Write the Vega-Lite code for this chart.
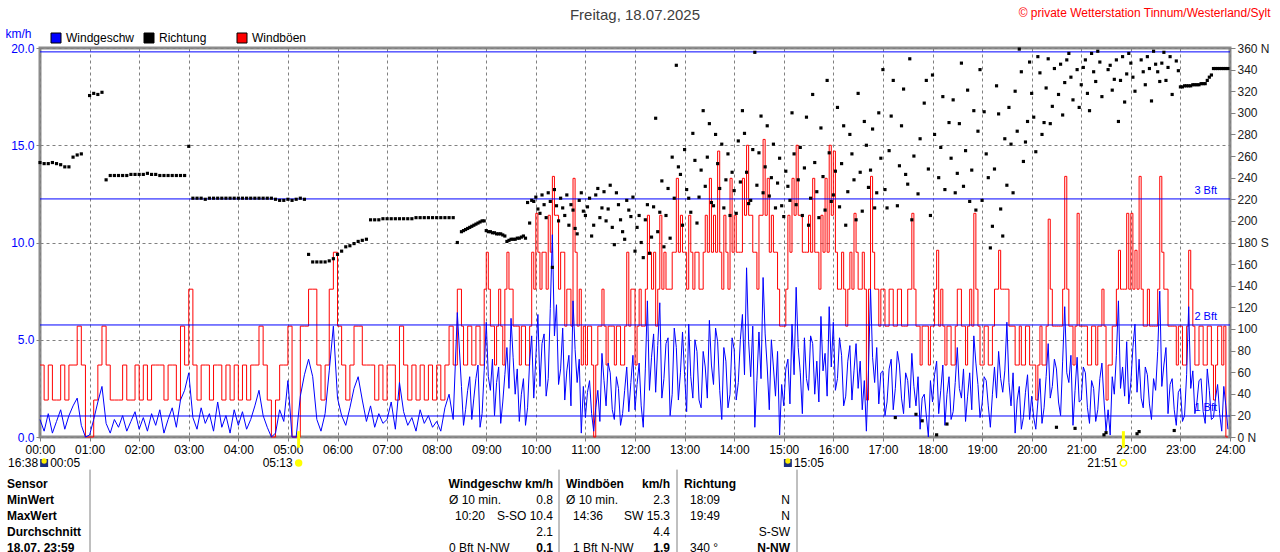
{
  "$schema": "https://vega.github.io/schema/vega-lite/v6.json",
  "width": 1190,
  "height": 389,
  "autosize": {"type": "none"},
  "padding": {"left": 40, "top": 48, "right": 50, "bottom": 115},
  "background": "white",
  "title": {
    "text": "Freitag, 18.07.2025",
    "anchor": "middle",
    "frame": "group",
    "offset": -17,
    "font": "Liberation Sans",
    "fontSize": 15,
    "fontWeight": "normal",
    "color": "#404040"
  },
  "config": {
    "view": {"stroke": "#8c8c8c", "strokeWidth": 3},
    "font": "Liberation Sans",
    "axis": {
      "labelFont": "Liberation Sans",
      "labelFontSize": 12,
      "titleFont": "Liberation Sans",
      "titleFontWeight": "normal",
      "titleFontSize": 12,
      "tickColor": "#808080",
      "domain": false,
      "gridColor": "#808080",
      "gridDash": [3, 3],
      "gridOpacity": 1,
      "gridWidth": 1
    }
  },
  "datasets": {
    "wind": [
      {"m": 0, "w": 0.9, "g": 3.7, "d": 254}, {"m": 5, "w": 0.3, "g": 1.9, "d": 253}, {"m": 10, "w": 1.2, "g": 3.7, "d": 253},
      {"m": 15, "w": 0.2, "g": 1.9, "d": 254}, {"m": 20, "w": 0.8, "g": 1.9, "d": 253}, {"m": 25, "w": 1.4, "g": 3.7, "d": 252},
      {"m": 30, "w": 0.4, "g": 1.9, "d": 250}, {"m": 35, "w": 1.1, "g": 3.7, "d": 250}, {"m": 40, "w": 1.6, "g": 3.7, "d": 259},
      {"m": 45, "w": 2.0, "g": 5.7, "d": 261}, {"m": 50, "w": 0.6, "g": 3.7, "d": 262}, {"m": 55, "w": 0.0, "g": 0.0},
      {"m": 60, "w": 0.1, "g": 0.0, "d": 316}, {"m": 65, "w": 0.9, "g": 1.9, "d": 318}, {"m": 70, "w": 1.8, "g": 3.7, "d": 317},
      {"m": 75, "w": 2.6, "g": 5.7, "d": 319}, {"m": 80, "w": 0.7, "g": 3.7, "d": 238}, {"m": 85, "w": 0.2, "g": 1.9, "d": 242},
      {"m": 90, "w": 0.9, "g": 1.9, "d": 242}, {"m": 95, "w": 0.5, "g": 1.9, "d": 242}, {"m": 100, "w": 1.1, "g": 3.7, "d": 242},
      {"m": 105, "w": 0.3, "g": 1.9, "d": 242}, {"m": 110, "w": 0.8, "g": 1.9, "d": 243}, {"m": 115, "w": 1.3, "g": 3.7, "d": 243},
      {"m": 120, "w": 0.4, "g": 1.9, "d": 243}, {"m": 125, "w": 1.0, "g": 3.7, "d": 243}, {"m": 130, "w": 0.3, "g": 1.9, "d": 244},
      {"m": 135, "w": 1.2, "g": 3.7, "d": 243}, {"m": 140, "w": 0.6, "g": 3.7, "d": 243}, {"m": 145, "w": 1.4, "g": 3.7, "d": 242},
      {"m": 150, "w": 0.2, "g": 1.9, "d": 242}, {"m": 155, "w": 0.9, "g": 3.7, "d": 242}, {"m": 160, "w": 1.5, "g": 3.7, "d": 242},
      {"m": 165, "w": 0.5, "g": 1.9, "d": 242}, {"m": 170, "w": 1.9, "g": 5.7, "d": 242}, {"m": 175, "w": 2.4, "g": 3.7, "d": 242},
      {"m": 180, "w": 3.3, "g": 7.6, "d": 269}, {"m": 185, "w": 1.0, "g": 3.7, "d": 221}, {"m": 190, "w": 0.4, "g": 1.9, "d": 221},
      {"m": 195, "w": 1.5, "g": 3.7, "d": 221}, {"m": 200, "w": 0.7, "g": 3.7, "d": 220}, {"m": 205, "w": 1.2, "g": 1.9, "d": 221},
      {"m": 210, "w": 0.3, "g": 3.7, "d": 221}, {"m": 215, "w": 1.8, "g": 3.7, "d": 221}, {"m": 220, "w": 0.5, "g": 1.9, "d": 221},
      {"m": 225, "w": 1.1, "g": 3.7, "d": 221}, {"m": 230, "w": 0.2, "g": 1.9, "d": 221}, {"m": 235, "w": 1.4, "g": 3.7, "d": 221},
      {"m": 240, "w": 0.6, "g": 1.9, "d": 221}, {"m": 245, "w": 1.3, "g": 3.7, "d": 221}, {"m": 250, "w": 0.4, "g": 1.9, "d": 221},
      {"m": 255, "w": 0.9, "g": 3.7, "d": 221}, {"m": 260, "w": 1.6, "g": 3.7, "d": 221}, {"m": 265, "w": 2.4, "g": 5.7, "d": 221},
      {"m": 270, "w": 1.1, "g": 3.7, "d": 221}, {"m": 275, "w": 0.5, "g": 1.9, "d": 221}, {"m": 280, "w": 0.0, "g": 0.0, "d": 221},
      {"m": 285, "w": 0.2, "g": 1.9, "d": 220}, {"m": 290, "w": 1.4, "g": 3.7, "d": 219}, {"m": 295, "w": 0.8, "g": 3.7, "d": 219},
      {"m": 300, "w": 2.9, "g": 5.7, "d": 220}, {"m": 305, "w": 0.0, "g": 0.0, "d": 219}, {"m": 310, "w": 0.0, "g": 0.0, "d": 220},
      {"m": 315, "w": 2.1, "g": 5.7, "d": 221}, {"m": 320, "w": 3.2, "g": 5.7, "d": 220}, {"m": 325, "w": 4.0, "g": 7.6, "d": 169},
      {"m": 330, "w": 3.1, "g": 7.6, "d": 162}, {"m": 335, "w": 0.9, "g": 3.7, "d": 162}, {"m": 340, "w": 0.3, "g": 1.9, "d": 162},
      {"m": 345, "w": 1.2, "g": 3.7, "d": 162}, {"m": 350, "w": 3.4, "g": 7.6, "d": 163}, {"m": 355, "w": 5.7, "g": 9.5, "d": 165},
      {"m": 360, "w": 2.0, "g": 5.7, "d": 169}, {"m": 365, "w": 1.1, "g": 3.7, "d": 172}, {"m": 370, "w": 0.6, "g": 1.9, "d": 176},
      {"m": 375, "w": 1.5, "g": 3.7, "d": 177}, {"m": 380, "w": 2.5, "g": 5.7, "d": 179}, {"m": 385, "w": 3.1, "g": 5.7, "d": 181},
      {"m": 390, "w": 1.9, "g": 3.7, "d": 182}, {"m": 395, "w": 0.8, "g": 3.7, "d": 183}, {"m": 400, "w": 1.6, "g": 3.7, "d": 201},
      {"m": 405, "w": 0.5, "g": 1.9, "d": 201}, {"m": 410, "w": 1.2, "g": 3.7, "d": 201}, {"m": 415, "w": 0.7, "g": 1.9, "d": 202},
      {"m": 420, "w": 0.9, "g": 3.7, "d": 202}, {"m": 425, "w": 1.8, "g": 3.7, "d": 202}, {"m": 430, "w": 0.4, "g": 1.9, "d": 202},
      {"m": 435, "w": 2.8, "g": 5.7, "d": 202}, {"m": 440, "w": 1.3, "g": 3.7, "d": 202}, {"m": 445, "w": 0.6, "g": 1.9, "d": 202},
      {"m": 450, "w": 1.0, "g": 3.7, "d": 202}, {"m": 455, "w": 0.3, "g": 1.9, "d": 203}, {"m": 460, "w": 1.4, "g": 3.7, "d": 203},
      {"m": 465, "w": 0.7, "g": 1.9, "d": 203}, {"m": 470, "w": 1.1, "g": 3.7, "d": 203}, {"m": 475, "w": 0.5, "g": 1.9, "d": 203},
      {"m": 480, "w": 0.8, "g": 3.7, "d": 203}, {"m": 485, "w": 0.3, "g": 1.9, "d": 203}, {"m": 490, "w": 1.5, "g": 3.7, "d": 203},
      {"m": 495, "w": 2.2, "g": 5.7, "d": 203}, {"m": 500, "w": 0.9, "g": 3.7, "d": 203}, {"m": 505, "w": 6.4, "g": 7.6, "d": 180},
      {"m": 510, "w": 2.6, "g": 5.7, "d": 190}, {"m": 515, "w": 1.4, "g": 3.7, "d": 192}, {"m": 520, "w": 3.1, "g": 5.7, "d": 194},
      {"m": 525, "w": 2.0, "g": 3.7, "d": 196}, {"m": 530, "w": 3.7, "g": 5.7, "d": 198}, {"m": 535, "w": 1.2, "g": 3.7, "d": 200},
      {"m": 540, "w": 5.9, "g": 9.5, "d": 191}, {"m": 545, "w": 2.4, "g": 5.7, "d": 190}, {"m": 550, "w": 1.1, "g": 3.7, "d": 189},
      {"m": 555, "w": 3.6, "g": 7.6, "d": 188}, {"m": 560, "w": 1.8, "g": 3.7, "d": 187}, {"m": 565, "w": 4.6, "g": 9.5, "d": 181},
      {"m": 570, "w": 6.1, "g": 7.6, "d": 183}, {"m": 575, "w": 2.2, "g": 5.7, "d": 183}, {"m": 580, "w": 0.8, "g": 3.7, "d": 184},
      {"m": 585, "w": 3.0, "g": 5.7, "d": 186}, {"m": 590, "w": 1.5, "g": 3.7, "d": 217}, {"m": 595, "w": 5.2, "g": 9.5, "d": 219},
      {"m": 600, "w": 4.1, "g": 11.5, "d": 222}, {"m": 605, "w": 2.6, "g": 7.6, "d": 207}, {"m": 610, "w": 5.3, "g": 9.5, "d": 215},
      {"m": 615, "w": 3.0, "g": 11.4, "d": 226}, {"m": 620, "w": 10.4, "g": 13.4, "d": 157}, {"m": 625, "w": 6.8, "g": 11.4, "d": 214},
      {"m": 630, "w": 3.5, "g": 9.5, "d": 221}, {"m": 635, "w": 1.9, "g": 5.7, "d": 205}, {"m": 640, "w": 4.2, "g": 7.6, "d": 196},
      {"m": 645, "w": 7.0, "g": 13.3, "d": 210}, {"m": 650, "w": 2.8, "g": 5.7, "d": 188}, {"m": 655, "w": 0.2, "g": 3.7, "d": 226},
      {"m": 660, "w": 1.0, "g": 3.7, "d": 205}, {"m": 665, "w": 2.9, "g": 5.7, "d": 221}, {"m": 670, "w": 0.3, "g": 0.0, "d": 196},
      {"m": 675, "w": 2.4, "g": 5.7, "d": 230}, {"m": 680, "w": 4.3, "g": 7.6, "d": 212}, {"m": 685, "w": 1.6, "g": 3.7, "d": 200},
      {"m": 690, "w": 3.3, "g": 5.7, "d": 233}, {"m": 695, "w": 0.9, "g": 3.7, "d": 178}, {"m": 700, "w": 2.5, "g": 5.7, "d": 215},
      {"m": 705, "w": 1.2, "g": 3.7, "d": 190}, {"m": 710, "w": 3.6, "g": 9.5, "d": 219}, {"m": 715, "w": 2.8, "g": 7.6, "d": 204},
      {"m": 720, "w": 1.4, "g": 3.7, "d": 172}, {"m": 725, "w": 3.8, "g": 7.6, "d": 205}, {"m": 730, "w": 0.5, "g": 5.7, "d": 166},
      {"m": 735, "w": 7.0, "g": 11.4, "d": 215}, {"m": 740, "w": 4.1, "g": 7.6, "d": 185}, {"m": 745, "w": 2.3, "g": 5.7, "d": 295},
      {"m": 750, "w": 6.9, "g": 11.4, "d": 208}, {"m": 755, "w": 3.0, "g": 9.5, "d": 176}, {"m": 760, "w": 5.1, "g": 7.6, "d": 230},
      {"m": 765, "w": 2.2, "g": 9.5, "d": 259}, {"m": 770, "w": 4.6, "g": 13.3, "d": 344}, {"m": 775, "w": 3.3, "g": 11.4, "d": 243},
      {"m": 780, "w": 3.2, "g": 9.5, "d": 266}, {"m": 785, "w": 5.8, "g": 11.4, "d": 221}, {"m": 790, "w": 2.0, "g": 7.6, "d": 281},
      {"m": 795, "w": 4.4, "g": 9.5, "d": 198}, {"m": 800, "w": 1.5, "g": 7.6, "d": 247}, {"m": 805, "w": 3.6, "g": 11.4, "d": 232},
      {"m": 810, "w": 6.0, "g": 13.3, "d": 290}, {"m": 815, "w": 2.7, "g": 11.4, "d": 214}, {"m": 820, "w": 4.9, "g": 14.7, "d": 253},
      {"m": 825, "w": 0.9, "g": 7.6, "d": 271}, {"m": 830, "w": 3.9, "g": 9.5, "d": 238}, {"m": 835, "w": 2.2, "g": 13.3, "d": 205},
      {"m": 840, "w": 4.5, "g": 11.4, "d": 228}, {"m": 845, "w": 2.8, "g": 9.5, "d": 274}, {"m": 850, "w": 6.3, "g": 13.3, "d": 302},
      {"m": 855, "w": 8.7, "g": 15.0, "d": 245}, {"m": 860, "w": 3.1, "g": 11.4, "d": 219}, {"m": 865, "w": 0.5, "g": 9.5, "d": 356},
      {"m": 870, "w": 5.4, "g": 11.4, "d": 263}, {"m": 875, "w": 8.2, "g": 15.3, "d": 226}, {"m": 880, "w": 3.6, "g": 13.3, "d": 288},
      {"m": 885, "w": 5.0, "g": 11.4, "d": 240}, {"m": 890, "w": 2.1, "g": 9.5, "d": 212}, {"m": 895, "w": 0.1, "g": 5.7, "d": 258},
      {"m": 900, "w": 1.6, "g": 5.7, "d": 204}, {"m": 905, "w": 4.0, "g": 11.4, "d": 232}, {"m": 910, "w": 5.8, "g": 13.3, "d": 300},
      {"m": 915, "w": 7.7, "g": 15.0, "d": 215}, {"m": 920, "w": 3.3, "g": 11.4, "d": 268}, {"m": 925, "w": 5.1, "g": 9.5, "d": 249},
      {"m": 930, "w": 2.4, "g": 11.4, "d": 196}, {"m": 935, "w": 4.8, "g": 13.3, "d": 317}, {"m": 940, "w": 3.9, "g": 9.5, "d": 227},
      {"m": 945, "w": 6.2, "g": 11.4, "d": 286}, {"m": 950, "w": 4.3, "g": 13.3, "d": 210}, {"m": 955, "w": 6.7, "g": 15.0, "d": 263},
      {"m": 960, "w": 5.9, "g": 14.7, "d": 224}, {"m": 965, "w": 3.0, "g": 7.6, "d": 305}, {"m": 970, "w": 4.2, "g": 9.5, "d": 253},
      {"m": 975, "w": 2.1, "g": 5.7, "d": 196}, {"m": 980, "w": 4.7, "g": 9.5, "d": 280}, {"m": 985, "w": 3.4, "g": 11.5, "d": 238},
      {"m": 990, "w": 2.5, "g": 7.6, "d": 318}, {"m": 995, "w": 1.4, "g": 9.5, "d": 209}, {"m": 1000, "w": 0.3, "g": 1.9, "d": 270},
      {"m": 1005, "w": 7.6, "g": 13.4, "d": 247}, {"m": 1010, "w": 2.8, "g": 7.6, "d": 212}, {"m": 1015, "w": 1.7, "g": 5.7, "d": 300},
      {"m": 1020, "w": 3.4, "g": 7.6, "d": 340}, {"m": 1025, "w": 1.8, "g": 5.7, "d": 212}, {"m": 1030, "w": 4.0, "g": 7.6, "d": 297},
      {"m": 1035, "w": 2.5, "g": 5.7, "d": 18}, {"m": 1040, "w": 3.7, "g": 7.6, "d": 251}, {"m": 1045, "w": 1.2, "g": 5.7, "d": 322},
      {"m": 1050, "w": 2.9, "g": 7.6, "d": 234}, {"m": 1055, "w": 4.3, "g": 11.5, "d": 201}, {"m": 1060, "w": 1.6, "g": 5.7, "d": 21},
      {"m": 1065, "w": 0.4, "g": 3.7, "d": 276}, {"m": 1070, "w": 2.2, "g": 5.7, "d": 309}, {"m": 1075, "w": 0.0, "g": 3.7, "d": 248},
      {"m": 1080, "w": 1.8, "g": 5.7, "d": 335}, {"m": 1085, "w": 3.9, "g": 9.6, "d": 2}, {"m": 1090, "w": 2.4, "g": 7.6, "d": 268},
      {"m": 1095, "w": 0.6, "g": 3.7, "d": 229}, {"m": 1100, "w": 3.1, "g": 5.7, "d": 291}, {"m": 1105, "w": 1.3, "g": 3.7, "d": 312},
      {"m": 1110, "w": 4.6, "g": 7.6, "d": 244}, {"m": 1115, "w": 2.0, "g": 5.7, "d": 346}, {"m": 1120, "w": 0.8, "g": 3.7, "d": 265},
      {"m": 1125, "w": 3.3, "g": 7.6, "d": 218}, {"m": 1130, "w": 5.2, "g": 11.5, "d": 302}, {"m": 1135, "w": 2.7, "g": 5.7, "d": 283},
      {"m": 1140, "w": 1.7, "g": 3.7, "d": 219}, {"m": 1145, "w": 2.9, "g": 5.7, "d": 262}, {"m": 1150, "w": 0.5, "g": 3.7, "d": 175},
      {"m": 1155, "w": 3.6, "g": 7.6, "d": 248}, {"m": 1160, "w": 4.4, "g": 9.6, "d": 299}, {"m": 1165, "w": 2.3, "g": 7.6, "d": 186},
      {"m": 1170, "w": 5.9, "g": 7.6, "d": 233}, {"m": 1175, "w": 1.6, "g": 5.7, "d": 271}, {"m": 1180, "w": 0.2, "g": 3.7, "d": 320},
      {"m": 1185, "w": 2.6, "g": 5.7, "d": 359}, {"m": 1190, "w": 1.0, "g": 3.7, "d": 255}, {"m": 1195, "w": 3.2, "g": 5.7, "d": 292},
      {"m": 1200, "w": 2.1, "g": 3.7, "d": 318}, {"m": 1205, "w": 0.4, "g": 1.9, "d": 264}, {"m": 1210, "w": 3.0, "g": 5.7, "d": 337},
      {"m": 1215, "w": 1.5, "g": 3.7, "d": 291}, {"m": 1220, "w": 4.8, "g": 11.2, "d": 350}, {"m": 1225, "w": 2.6, "g": 5.7, "d": 306},
      {"m": 1230, "w": 3.5, "g": 5.7, "d": 9}, {"m": 1235, "w": 1.1, "g": 5.7, "d": 345}, {"m": 1240, "w": 6.7, "g": 13.4, "d": 328},
      {"m": 1245, "w": 2.8, "g": 5.7, "d": 355}, {"m": 1250, "w": 0.6, "g": 3.7, "d": 312}, {"m": 1255, "w": 4.1, "g": 11.5, "d": 340},
      {"m": 1260, "w": 1.9, "g": 5.7, "d": 326}, {"m": 1265, "w": 3.3, "g": 5.7, "d": 349}, {"m": 1270, "w": 0.7, "g": 3.7, "d": 302},
      {"m": 1275, "w": 2.5, "g": 5.7, "d": 338}, {"m": 1280, "w": 1.4, "g": 5.7, "d": 357}, {"m": 1285, "w": 3.8, "g": 7.6, "d": 315},
      {"m": 1290, "w": 0.3, "g": 1.9, "d": 4}, {"m": 1295, "w": 0.1, "g": 3.7, "d": 344}, {"m": 1300, "w": 2.2, "g": 5.7, "d": 331},
      {"m": 1305, "w": 7.0, "g": 9.6, "d": 292}, {"m": 1310, "w": 3.6, "g": 7.6, "d": 352}, {"m": 1315, "w": 4.9, "g": 11.5, "d": 336},
      {"m": 1320, "w": 2.8, "g": 11.5, "d": 346}, {"m": 1325, "w": 5.8, "g": 9.6, "d": 320}, {"m": 1330, "w": 4.0, "g": 13.4, "d": 5},
      {"m": 1335, "w": 1.5, "g": 5.7, "d": 338}, {"m": 1340, "w": 3.2, "g": 7.6, "d": 352}, {"m": 1345, "w": 0.9, "g": 5.7, "d": 311},
      {"m": 1350, "w": 2.4, "g": 5.7, "d": 345}, {"m": 1355, "w": 7.5, "g": 13.4, "d": 329}, {"m": 1360, "w": 3.7, "g": 7.6, "d": 356},
      {"m": 1365, "w": 1.2, "g": 5.7, "d": 342}, {"m": 1370, "w": 3.0, "g": 5.7, "d": 317}, {"m": 1375, "w": 0.6, "g": 3.7, "d": 348},
      {"m": 1380, "w": 2.5, "g": 5.7, "d": 324}, {"m": 1385, "w": 1.1, "g": 3.7, "d": 325}, {"m": 1390, "w": 6.7, "g": 9.6, "d": 325},
      {"m": 1395, "w": 3.4, "g": 5.7, "d": 326}, {"m": 1400, "w": 1.8, "g": 3.7, "d": 326}, {"m": 1405, "w": 3.0, "g": 5.7, "d": 327},
      {"m": 1410, "w": 0.7, "g": 3.7, "d": 327}, {"m": 1415, "w": 2.4, "g": 5.7, "d": 333}, {"m": 1420, "w": 1.0, "g": 1.9, "d": 341},
      {"m": 1425, "w": 2.7, "g": 5.7, "d": 341}, {"m": 1430, "w": 0.3, "g": 3.7, "d": 341}, {"m": 1435, "w": 1.6, "g": 0.0, "d": 341},
      {"m": 512.5, "w": 0.6, "g": 3.7, "d": 191}, {"m": 517.5, "w": 2.4, "g": 5.7, "d": 193}, {"m": 522.5, "w": 0.9, "g": 3.7, "d": 195},
      {"m": 527.5, "w": 3.0, "g": 5.7, "d": 197}, {"m": 532.5, "w": 0.5, "g": 3.7, "d": 199}, {"m": 537.5, "w": 3.4, "g": 7.6, "d": 200},
      {"m": 542.5, "w": 3.1, "g": 7.6, "d": 190}, {"m": 547.5, "w": 4.0, "g": 5.7, "d": 189}, {"m": 552.5, "w": 2.8, "g": 5.7, "d": 188},
      {"m": 557.5, "w": 0.7, "g": 5.7, "d": 188}, {"m": 562.5, "w": 3.2, "g": 7.6, "d": 186}, {"m": 567.5, "w": 2.5, "g": 7.6, "d": 182},
      {"m": 572.5, "w": 4.1, "g": 5.7, "d": 183}, {"m": 577.5, "w": 3.5, "g": 5.7, "d": 184}, {"m": 582.5, "w": 2.2, "g": 5.7, "d": 185},
      {"m": 587.5, "w": 0.6, "g": 3.7, "d": 184}, {"m": 592.5, "w": 3.9, "g": 5.7, "d": 198}, {"m": 597.5, "w": 2.0, "g": 7.6, "d": 218},
      {"m": 602.5, "w": 6.3, "g": 9.5, "d": 211}, {"m": 607.5, "w": 4.8, "g": 9.5, "d": 224}, {"m": 612.5, "w": 2.1, "g": 7.6, "d": 203},
      {"m": 617.5, "w": 6.6, "g": 9.5, "d": 218}, {"m": 622.5, "w": 5.2, "g": 11.4, "d": 229}, {"m": 627.5, "w": 2.7, "g": 7.6, "d": 200},
      {"m": 632.5, "w": 5.6, "g": 9.5, "d": 212}, {"m": 637.5, "w": 3.4, "g": 7.6, "d": 224}, {"m": 642.5, "w": 1.6, "g": 5.7, "d": 215},
      {"m": 647.5, "w": 4.5, "g": 9.5, "d": 193}, {"m": 652.5, "w": 4.0, "g": 7.6, "d": 219}, {"m": 657.5, "w": 2.6, "g": 5.7, "d": 209},
      {"m": 662.5, "w": 2.3, "g": 5.7, "d": 213}, {"m": 667.5, "w": 1.2, "g": 3.7, "d": 186}, {"m": 672.5, "w": 1.5, "g": 3.7, "d": 224},
      {"m": 677.5, "w": 0.8, "g": 5.7, "d": 203}, {"m": 682.5, "w": 2.9, "g": 5.7, "d": 227}, {"m": 687.5, "w": 3.8, "g": 5.7, "d": 211},
      {"m": 692.5, "w": 1.4, "g": 5.7, "d": 194}, {"m": 697.5, "w": 3.1, "g": 5.7, "d": 226}, {"m": 702.5, "w": 0.6, "g": 3.7, "d": 201},
      {"m": 707.5, "w": 2.4, "g": 5.7, "d": 183}, {"m": 712.5, "w": 1.3, "g": 5.7, "d": 210}, {"m": 717.5, "w": 4.2, "g": 7.6, "d": 222},
      {"m": 722.5, "w": 2.7, "g": 5.7, "d": 194}, {"m": 727.5, "w": 1.6, "g": 5.7, "d": 180}, {"m": 732.5, "w": 3.5, "g": 7.6, "d": 201},
      {"m": 737.5, "w": 2.4, "g": 9.5, "d": 170}, {"m": 742.5, "w": 5.3, "g": 9.5, "d": 213}, {"m": 747.5, "w": 4.7, "g": 7.6, "d": 190},
      {"m": 752.5, "w": 2.0, "g": 7.6, "d": 237}, {"m": 757.5, "w": 4.8, "g": 7.6, "d": 205}, {"m": 762.5, "w": 1.1, "g": 7.6, "d": 184},
      {"m": 767.5, "w": 5.6, "g": 9.5, "d": 221}, {"m": 772.5, "w": 1.9, "g": 9.5, "d": 250}, {"m": 777.5, "w": 5.4, "g": 9.5, "d": 196},
      {"m": 782.5, "w": 1.3, "g": 7.6, "d": 229}, {"m": 787.5, "w": 3.1, "g": 9.5, "d": 208}, {"m": 792.5, "w": 5.0, "g": 9.5, "d": 256},
      {"m": 797.5, "w": 1.9, "g": 7.6, "d": 222}, {"m": 802.5, "w": 4.4, "g": 9.5, "d": 302}, {"m": 807.5, "w": 2.0, "g": 9.5, "d": 259},
      {"m": 812.5, "w": 3.7, "g": 9.5, "d": 217}, {"m": 817.5, "w": 5.6, "g": 9.5, "d": 280}, {"m": 822.5, "w": 2.4, "g": 9.5, "d": 230},
      {"m": 827.5, "w": 4.6, "g": 11.4, "d": 212}, {"m": 832.5, "w": 1.5, "g": 7.6, "d": 262}, {"m": 837.5, "w": 5.1, "g": 9.5, "d": 245},
      {"m": 842.5, "w": 1.9, "g": 9.5, "d": 207}, {"m": 847.5, "w": 5.0, "g": 9.5, "d": 236}, {"m": 852.5, "w": 3.2, "g": 11.4, "d": 281},
      {"m": 857.5, "w": 4.9, "g": 11.4, "d": 216}, {"m": 862.5, "w": 5.7, "g": 9.5, "d": 266}, {"m": 867.5, "w": 2.9, "g": 7.6, "d": 233},
      {"m": 872.5, "w": 3.0, "g": 11.4, "d": 297}, {"m": 877.5, "w": 5.3, "g": 11.4, "d": 250}, {"m": 882.5, "w": 1.4, "g": 9.5, "d": 223},
      {"m": 887.5, "w": 3.6, "g": 9.5, "d": 271}, {"m": 892.5, "w": 4.4, "g": 7.6, "d": 235}, {"m": 897.5, "w": 2.7, "g": 5.7, "d": 214},
      {"m": 902.5, "w": 3.5, "g": 7.6, "d": 246}, {"m": 907.5, "w": 1.7, "g": 9.5, "d": 219}, {"m": 912.5, "w": 3.2, "g": 11.4, "d": 262},
      {"m": 917.5, "w": 4.6, "g": 11.4, "d": 238}, {"m": 922.5, "w": 1.2, "g": 9.5, "d": 205}, {"m": 927.5, "w": 3.0, "g": 9.5, "d": 296},
      {"m": 932.5, "w": 5.2, "g": 9.5, "d": 221}, {"m": 937.5, "w": 2.2, "g": 9.5, "d": 254}, {"m": 942.5, "w": 1.8, "g": 7.6, "d": 203},
      {"m": 947.5, "w": 3.4, "g": 9.5, "d": 241}, {"m": 952.5, "w": 2.1, "g": 9.5, "d": 330}, {"m": 957.5, "w": 3.6, "g": 11.4, "d": 218},
      {"m": 962.5, "w": 2.4, "g": 9.5, "d": 246}, {"m": 967.5, "w": 5.1, "g": 7.6, "d": 213}, {"m": 972.5, "w": 1.6, "g": 7.6, "d": 288},
      {"m": 977.5, "w": 3.9, "g": 7.6, "d": 227}, {"m": 982.5, "w": 1.9, "g": 7.6, "d": 262}, {"m": 987.5, "w": 4.8, "g": 9.5, "d": 201},
      {"m": 992.5, "w": 3.9, "g": 7.6, "d": 245}, {"m": 997.5, "w": 2.9, "g": 7.6, "d": 292}, {"m": 1002.5, "w": 3.4, "g": 7.6, "d": 231},
      {"m": 1007.5, "w": 4.1, "g": 9.5, "d": 285}, {"m": 1012.5, "w": 4.6, "g": 7.6, "d": 226}, {"m": 1017.5, "w": 3.3, "g": 7.6, "d": 258},
      {"m": 1022.5, "w": 1.1, "g": 5.7, "d": 229}, {"m": 1027.5, "w": 3.5, "g": 7.6, "d": 265}, {"m": 1032.5, "w": 1.4, "g": 5.7, "d": 330},
      {"m": 1037.5, "w": 4.4, "g": 7.6, "d": 214}, {"m": 1042.5, "w": 2.0, "g": 5.7, "d": 288}, {"m": 1047.5, "w": 3.3, "g": 5.7, "d": 243},
      {"m": 1052.5, "w": 1.5, "g": 7.6, "d": 350}, {"m": 1057.5, "w": 2.6, "g": 7.6, "d": 260}, {"m": 1062.5, "w": 3.1, "g": 5.7, "d": 225},
      {"m": 1067.5, "w": 2.0, "g": 5.7, "d": 15}, {"m": 1072.5, "w": 1.1, "g": 5.7, "d": 330}, {"m": 1077.5, "w": 2.9, "g": 5.7, "d": 205},
      {"m": 1082.5, "w": 3.2, "g": 7.6, "d": 280}, {"m": 1087.5, "w": 1.2, "g": 5.7, "d": 240}, {"m": 1092.5, "w": 3.7, "g": 5.7, "d": 315},
      {"m": 1097.5, "w": 2.2, "g": 5.7, "d": 12}, {"m": 1102.5, "w": 0.9, "g": 3.7, "d": 258}, {"m": 1107.5, "w": 2.8, "g": 5.7, "d": 226},
      {"m": 1112.5, "w": 2.5, "g": 7.6, "d": 290}, {"m": 1117.5, "w": 3.5, "g": 5.7, "d": 232}, {"m": 1122.5, "w": 2.1, "g": 5.7, "d": 321},
      {"m": 1127.5, "w": 1.4, "g": 5.7, "d": 247}, {"m": 1132.5, "w": 3.8, "g": 7.6, "d": 210}, {"m": 1137.5, "w": 1.0, "g": 3.7, "d": 340},
      {"m": 1142.5, "w": 3.1, "g": 5.7, "d": 301}, {"m": 1147.5, "w": 1.6, "g": 3.7, "d": 240}, {"m": 1152.5, "w": 2.2, "g": 5.7, "d": 195},
      {"m": 1157.5, "w": 2.0, "g": 7.6, "d": 325}, {"m": 1162.5, "w": 3.0, "g": 7.6, "d": 211}, {"m": 1167.5, "w": 3.4, "g": 7.6, "d": 276},
      {"m": 1172.5, "w": 2.8, "g": 5.7, "d": 305}, {"m": 1177.5, "w": 3.3, "g": 5.7, "d": 226}, {"m": 1182.5, "w": 1.9, "g": 3.7, "d": 283},
      {"m": 1187.5, "w": 0.4, "g": 3.7, "d": 338}, {"m": 1192.5, "w": 2.3, "g": 5.7, "d": 273}, {"m": 1197.5, "w": 0.9, "g": 3.7, "d": 347},
      {"m": 1202.5, "w": 1.0, "g": 3.7, "d": 296}, {"m": 1207.5, "w": 1.8, "g": 3.7, "d": 352}, {"m": 1212.5, "w": 0.7, "g": 3.7, "d": 280},
      {"m": 1217.5, "w": 3.1, "g": 5.7, "d": 323}, {"m": 1222.5, "w": 2.0, "g": 7.6, "d": 290}, {"m": 1227.5, "w": 4.0, "g": 5.7, "d": 341},
      {"m": 1232.5, "w": 1.8, "g": 5.7, "d": 317}, {"m": 1237.5, "w": 3.9, "g": 7.6, "d": 298}, {"m": 1242.5, "w": 3.3, "g": 7.6, "d": 349},
      {"m": 1247.5, "w": 4.2, "g": 5.7, "d": 333}, {"m": 1252.5, "w": 2.4, "g": 5.7, "d": 8}, {"m": 1257.5, "w": 1.8, "g": 5.7, "d": 305},
      {"m": 1262.5, "w": 3.6, "g": 5.7, "d": 342}, {"m": 1267.5, "w": 1.5, "g": 3.7, "d": 318}, {"m": 1272.5, "w": 2.9, "g": 5.7, "d": 355},
      {"m": 1277.5, "w": 0.8, "g": 3.7, "d": 329}, {"m": 1282.5, "w": 3.0, "g": 5.7, "d": 347}, {"m": 1287.5, "w": 1.9, "g": 5.7, "d": 2},
      {"m": 1292.5, "w": 1.4, "g": 3.7, "d": 340}, {"m": 1297.5, "w": 3.1, "g": 5.7, "d": 321}, {"m": 1302.5, "w": 4.2, "g": 7.6, "d": 349},
      {"m": 1307.5, "w": 2.5, "g": 7.6, "d": 330}, {"m": 1312.5, "w": 2.1, "g": 7.6, "d": 310}, {"m": 1317.5, "w": 1.7, "g": 7.6, "d": 355},
      {"m": 1322.5, "w": 4.6, "g": 7.6, "d": 333}, {"m": 1327.5, "w": 2.3, "g": 7.6, "d": 3}, {"m": 1332.5, "w": 2.0, "g": 7.6, "d": 349},
      {"m": 1337.5, "w": 3.6, "g": 5.7, "d": 326}, {"m": 1342.5, "w": 1.7, "g": 5.7, "d": 341}, {"m": 1347.5, "w": 3.0, "g": 5.7, "d": 357},
      {"m": 1352.5, "w": 4.4, "g": 7.6, "d": 338}, {"m": 1357.5, "w": 2.6, "g": 9.5, "d": 346}, {"m": 1362.5, "w": 4.6, "g": 7.6, "d": 330},
      {"m": 1367.5, "w": 2.7, "g": 5.7, "d": 352}, {"m": 1372.5, "w": 1.4, "g": 5.7, "d": 6}, {"m": 1377.5, "w": 2.3, "g": 5.7, "d": 339},
      {"m": 1382.5, "w": 0.8, "g": 3.7, "d": 324}, {"m": 1387.5, "w": 3.2, "g": 5.7, "d": 325}, {"m": 1392.5, "w": 2.5, "g": 7.6, "d": 325},
      {"m": 1397.5, "w": 1.2, "g": 3.7, "d": 326}, {"m": 1402.5, "w": 2.9, "g": 5.7, "d": 326}, {"m": 1407.5, "w": 1.3, "g": 3.7, "d": 327},
      {"m": 1412.5, "w": 3.5, "g": 5.7, "d": 330}, {"m": 1417.5, "w": 0.9, "g": 3.7, "d": 335}, {"m": 1422.5, "w": 2.0, "g": 3.7, "d": 341},
      {"m": 1427.5, "w": 1.2, "g": 5.7, "d": 341}, {"m": 1432.5, "w": 2.6, "g": 5.7, "d": 341}, {"m": 1437.5, "w": 0.4, "g": 0.0, "d": 341}
    ],
    "bft": [
      {"v": 1.08, "lab": "1 Bft"},
      {"v": 5.76, "lab": "2 Bft"},
      {"v": 12.24, "lab": "3 Bft"},
      {"v": 19.8, "lab": ""}
    ],
    "astro": [
      {"m": 5, "icon": "moon", "lt": "16:38", "rt": "00:05"},
      {"m": 313, "icon": "sunrise", "lt": "05:13"},
      {"m": 905, "icon": "moon", "rt": "15:05"},
      {"m": 1311, "icon": "sunset", "lt": "21:51"}
    ],
    "tab": [
      {"c": 0, "r": 0, "t": "Sensor", "s": "bl"},
      {"c": 0, "r": 1, "t": "MinWert", "s": "bl"},
      {"c": 0, "r": 2, "t": "MaxWert", "s": "bl"},
      {"c": 0, "r": 3, "t": "Durchschnitt", "s": "bl"},
      {"c": 0, "r": 4, "t": "18.07.  23:59", "s": "bl"},
      {"c": 6, "r": 0, "t": "Windböen", "s": "bl"},
      {"c": 10, "r": 0, "t": "Richtung", "s": "bl"},
      {"c": 4, "r": 0, "t": "Windgeschw km/h", "s": "br"},
      {"c": 8, "r": 0, "t": "km/h", "s": "br"},
      {"c": 4, "r": 4, "t": "0.1", "s": "br"},
      {"c": 8, "r": 4, "t": "1.9", "s": "br"},
      {"c": 12, "r": 4, "t": "N-NW", "s": "br"},
      {"c": 2, "r": 1, "t": "Ø 10 min.", "s": "nl"},
      {"c": 3, "r": 2, "t": "10:20", "s": "nl"},
      {"c": 2, "r": 4, "t": "0 Bft N-NW", "s": "nl"},
      {"c": 6, "r": 1, "t": "Ø 10 min.", "s": "nl"},
      {"c": 7, "r": 2, "t": "14:36", "s": "nl"},
      {"c": 7, "r": 4, "t": "1 Bft N-NW", "s": "nl"},
      {"c": 11, "r": 1, "t": "18:09", "s": "nl"},
      {"c": 11, "r": 2, "t": "19:49", "s": "nl"},
      {"c": 11, "r": 4, "t": "340 °", "s": "nl"},
      {"c": 4, "r": 1, "t": "0.8", "s": "nr"},
      {"c": 4, "r": 2, "t": "S-SO 10.4", "s": "nr"},
      {"c": 4, "r": 3, "t": "2.1", "s": "nr"},
      {"c": 8, "r": 1, "t": "2.3", "s": "nr"},
      {"c": 8, "r": 2, "t": "SW 15.3", "s": "nr"},
      {"c": 8, "r": 3, "t": "4.4", "s": "nr"},
      {"c": 12, "r": 1, "t": "N", "s": "nr"},
      {"c": 12, "r": 2, "t": "N", "s": "nr"},
      {"c": 12, "r": 3, "t": "S-SW", "s": "nr"}
    ],
    "seps": [
      {"c": 1, "r": -0.9, "r2": 4.6},
      {"c": 5, "r": -0.9, "r2": 4.6},
      {"c": 9, "r": -0.9, "r2": 4.6},
      {"c": 13, "r": -0.9, "r2": 4.6}
    ]
  },
  "layer": [
    {
      "layer": [
        {
          "data": {"name": "wind"},
          "mark": {"type": "line", "interpolate": "step-after", "color": "#ff0000", "strokeWidth": 1},
          "encoding": {
            "x": {
              "field": "m", "type": "quantitative", "title": null,
              "scale": {"domain": [0, 1440], "nice": false},
              "axis": {
                "values": [0, 60, 120, 180, 240, 300, 360, 420, 480, 540, 600, 660, 720, 780, 840, 900, 960, 1020, 1080, 1140, 1200, 1260, 1320, 1380, 1440],
                "labelExpr": "(datum.value < 600 ? '0' : '') + floor(datum.value / 60) + ':00'",
                "labelColor": "#000000", "tickSize": 4, "labelPadding": 3,
                "labelFlush": false, "labelOverlap": false, "grid": true
              }
            },
            "y": {
              "field": "g", "type": "quantitative", "title": "km/h",
              "scale": {"domain": [0, 20], "nice": false},
              "axis": {
                "values": [0, 5, 10, 15, 20], "format": ".1f",
                "labelColor": "#0000ff", "tickSize": 4, "labelPadding": 2, "grid": true,
                "titleAngle": 0, "titleAlign": "left", "titleBaseline": "middle",
                "titleX": -35, "titleY": -15, "titleColor": "#0000ff"
              }
            }
          }
        },
        {
          "data": {"name": "wind"},
          "mark": {"type": "line", "color": "#0000ff", "strokeWidth": 1},
          "encoding": {
            "x": {"field": "m", "type": "quantitative", "title": null},
            "y": {"field": "w", "type": "quantitative", "title": "km/h"}
          }
        },
        {
          "data": {"name": "bft"},
          "mark": {"type": "rule", "color": "#0000ff", "strokeWidth": 1},
          "encoding": {
            "y": {"field": "v", "type": "quantitative", "title": "km/h"}
          }
        },
        {
          "data": {"name": "bft"},
          "mark": {"type": "text", "color": "#0000ff", "align": "right", "baseline": "middle", "dx": -13, "dy": -8, "fontSize": 11, "font": "Liberation Sans"},
          "encoding": {
            "x": {"datum": 1440, "type": "quantitative"},
            "y": {"field": "v", "type": "quantitative", "title": "km/h"},
            "text": {"field": "lab"}
          }
        }
      ]
    },
    {
      "data": {"name": "wind"},
      "mark": {"type": "point", "shape": "square", "filled": true, "size": 10, "opacity": 1},
      "encoding": {
        "x": {"field": "m", "type": "quantitative", "scale": {"domain": [0, 1440], "nice": false}, "axis": null},
        "y": {
          "field": "d", "type": "quantitative",
          "title": "© private Wetterstation Tinnum/Westerland/Sylt",
          "scale": {"domain": [0, 360], "nice": false},
          "axis": {
            "orient": "right",
            "values": [0, 20, 40, 60, 80, 100, 120, 140, 160, 180, 200, 220, 240, 260, 280, 300, 320, 340, 360],
            "labelExpr": "datum.value == 360 ? '360 N' : datum.value == 180 ? '180 S' : datum.value == 0 ? '0    N' : datum.label",
            "labelColor": "#202020", "tickSize": 5, "labelPadding": 2, "grid": false,
            "titleAngle": 0, "titleAlign": "right", "titleBaseline": "middle",
            "titleX": 40, "titleY": -36, "titleColor": "#ff0000"
          }
        },
        "color": {
          "datum": "Richtung", "type": "nominal",
          "scale": {"domain": ["Windgeschw", "Richtung", "Windböen"], "range": ["#0000ff", "#000000", "#ff0000"]},
          "legend": {
            "orient": "none", "legendX": 10, "legendY": -16, "direction": "horizontal",
            "title": null, "symbolType": "square", "symbolSize": 100,
            "symbolStrokeColor": "#000000", "symbolStrokeWidth": 1,
            "labelFont": "Liberation Sans", "labelFontSize": 12, "labelOffset": 4,
            "columnPadding": 7, "gridAlign": "all", "padding": 0,
            "encode": {
              "labels": {"update": {"fill": {"signal": "datum.value === 'Richtung' ? '#000000' : '#0000ff'"}}},
              "symbols": {"update": {"fill": {"scale": "color", "field": "value"}, "stroke": {"value": "#000000"}}}
            }
          }
        }
      }
    },
    {
      "data": {"name": "astro"},
      "encoding": {
        "x": {"field": "m", "type": "quantitative", "scale": {"domain": [0, 1440], "nice": false}, "axis": null},
        "y": {"datum": 0, "type": "quantitative", "scale": {"domain": [0, 20], "nice": false}, "axis": null}
      },
      "layer": [
        {
          "transform": [{"filter": "datum.icon == 'sunrise' || datum.icon == 'sunset'"}],
          "mark": {"type": "rule", "color": "#ffff00", "strokeWidth": 3},
          "encoding": {"y": {"datum": 0.3, "type": "quantitative"}, "y2": {"datum": -0.55}}
        },
        {
          "transform": [{"filter": "datum.icon == 'moon'"}],
          "mark": {"type": "point", "shape": "square", "filled": true, "size": 64, "color": "#1c2f80", "yOffset": 26, "opacity": 1}
        },
        {
          "transform": [{"filter": "datum.icon == 'moon'"}],
          "mark": {"type": "point", "shape": "circle", "filled": true, "size": 28, "color": "#ffee00", "yOffset": 24, "opacity": 1}
        },
        {
          "transform": [{"filter": "datum.icon == 'sunrise'"}],
          "mark": {"type": "point", "shape": "circle", "filled": true, "size": 55, "color": "#ffff00", "yOffset": 26, "opacity": 1}
        },
        {
          "transform": [{"filter": "datum.icon == 'sunset'"}],
          "mark": {"type": "point", "shape": "circle", "filled": false, "size": 40, "color": "#ffff00", "strokeWidth": 1.5, "yOffset": 26, "opacity": 1}
        },
        {
          "transform": [{"filter": "isValid(datum.lt)"}],
          "mark": {"type": "text", "align": "right", "baseline": "middle", "dx": -6, "dy": 26, "fontSize": 12, "font": "Liberation Sans", "color": "#000000"},
          "encoding": {"text": {"field": "lt"}}
        },
        {
          "transform": [{"filter": "isValid(datum.rt)"}],
          "mark": {"type": "text", "align": "left", "baseline": "middle", "dx": 6, "dy": 26, "fontSize": 12, "font": "Liberation Sans", "color": "#000000"},
          "encoding": {"text": {"field": "rt"}}
        }
      ]
    },
    {
      "encoding": {
        "x": {
          "field": "c", "type": "quantitative", "axis": null,
          "scale": {"domain": [0, 1, 2, 3, 4, 5, 6, 7, 8, 9, 10, 11, 12, 13], "range": [-33, 50, 409, 415, 513, 519, 526, 533, 630, 637, 644, 650, 750, 757], "nice": false, "zero": false}
        },
        "y": {
          "field": "r", "type": "quantitative", "axis": null,
          "scale": {"domain": [0, 4], "range": [436, 500], "nice": false, "zero": false}
        }
      },
      "layer": [
        {
          "data": {"name": "seps"},
          "mark": {"type": "rule", "color": "#808080", "strokeWidth": 1},
          "encoding": {"y2": {"field": "r2"}}
        },
        {
          "data": {"name": "tab"},
          "transform": [{"filter": "datum.s == 'bl'"}],
          "mark": {"type": "text", "align": "left", "baseline": "middle", "fontSize": 12, "fontWeight": "bold", "font": "Liberation Sans", "color": "#000000"},
          "encoding": {"text": {"field": "t"}}
        },
        {
          "data": {"name": "tab"},
          "transform": [{"filter": "datum.s == 'br'"}],
          "mark": {"type": "text", "align": "right", "baseline": "middle", "fontSize": 12, "fontWeight": "bold", "font": "Liberation Sans", "color": "#000000"},
          "encoding": {"text": {"field": "t"}}
        },
        {
          "data": {"name": "tab"},
          "transform": [{"filter": "datum.s == 'nl'"}],
          "mark": {"type": "text", "align": "left", "baseline": "middle", "fontSize": 12, "font": "Liberation Sans", "color": "#000000"},
          "encoding": {"text": {"field": "t"}}
        },
        {
          "data": {"name": "tab"},
          "transform": [{"filter": "datum.s == 'nr'"}],
          "mark": {"type": "text", "align": "right", "baseline": "middle", "fontSize": 12, "font": "Liberation Sans", "color": "#000000"},
          "encoding": {"text": {"field": "t"}}
        }
      ]
    }
  ],
  "resolve": {"scale": {"x": "independent", "y": "independent"}}
}
